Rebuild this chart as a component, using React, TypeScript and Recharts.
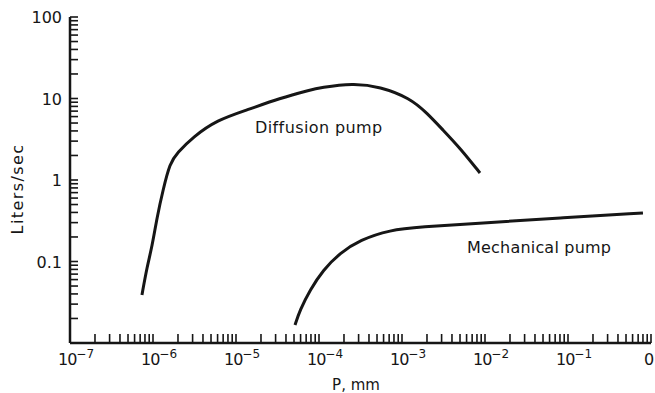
import React from 'react';
import { LineChart, Line, XAxis, YAxis } from 'recharts';

// pumping speed (liters/sec) against pressure (mm)
const diffusionPressure = [7.36e-7, 8.47e-7, 9.73e-7, 1.12e-6, 1.32e-6, 1.6e-6, 1.95e-6, 3.03e-6, 5.9e-6, 1.36e-5, 3.39e-5, 7.8e-5, 1.03e-4, 2.57e-4, 5.43e-4, 1.25e-3, 2.0e-3, 3.12e-3, 5.0e-3, 8.7e-3];
const diffusionSpeed = [0.0388, 0.0857, 0.151, 0.352, 0.753, 1.62, 2.14, 3.37, 5.45, 7.23, 10.1, 12.7, 13.6, 15.4, 14.0, 10.1, 6.64, 4.1, 2.47, 1.22];

const mechanicalPressure = [5.14e-5, 5.9e-5, 7.8e-5, 1.12e-4, 1.79e-4, 3.12e-4, 7.16e-4, 1.65e-3, 8.7e-3, 0.08, 0.8];
const mechanicalSpeed = [0.0166, 0.0254, 0.0447, 0.0787, 0.127, 0.184, 0.244, 0.265, 0.296, 0.342, 0.394];

const xDecades = [1e-7, 1e-6, 1e-5, 1e-4, 1e-3, 1e-2, 1e-1, 1];
const xExponents = ['−7', '−6', '−5', '−4', '−3', '−2', '−1', ''];
const yDecades = [0.01, 0.1, 1, 10, 100];
const yLabels = ['', '0.1', '1', '10', '100'];
const minorSteps = [2, 3, 4, 5, 6, 7, 8, 9];

const ink = '#161616';
const font = '"DejaVu Sans", sans-serif';

const withMinor = (decades: number[]) =>
  decades.flatMap((d, i) => (i < decades.length - 1 ? [d, ...minorSteps.map((m) => d * m)] : [d]));

const xTicks = withMinor(xDecades);
const yTicks = withMinor(yDecades);

const decadeIndex = (v: number, decades: number[]) =>
  decades.findIndex((d) => Math.abs(Math.log10(v) - Math.log10(d)) < 1e-6);

const diffusion = diffusionPressure.map((p, i) => ({ p, s: diffusionSpeed[i] }));
const mechanical = mechanicalPressure.map((p, i) => ({ p, s: mechanicalSpeed[i] }));

function XTick(props: any) {
  const { x, y, payload } = props;
  const i = decadeIndex(payload.value, xDecades);
  return (
    <g>
      <line x1={x} y1={y} x2={x} y2={y - 9} stroke={ink} strokeWidth={1.6} />
      {i >= 0 && xExponents[i] !== '' && (
        <text x={x - 12} y={y + 22} fill={ink} fontSize={16} fontFamily={font}>
          <tspan letterSpacing={-1}>10</tspan>
          <tspan dy={-7} fontSize={12}>{xExponents[i]}</tspan>
        </text>
      )}
      {i >= 0 && xExponents[i] === '' && (
        <text x={x - 7} y={y + 22} fill={ink} fontSize={16} fontFamily={font}>0</text>
      )}
    </g>
  );
}

function YTick(props: any) {
  const { x, y, payload } = props;
  const i = decadeIndex(payload.value, yDecades);
  return (
    <g>
      <line x1={x} y1={y} x2={x + 8} y2={y} stroke={ink} strokeWidth={1.6} />
      {i >= 0 && yLabels[i] !== '' && (
        <text x={x - 8} y={y + 6} textAnchor="end" fill={ink} fontSize={16} fontFamily={font}>
          {yLabels[i]}
        </text>
      )}
    </g>
  );
}

export default function App() {
  return (
    <div style={{ position: 'absolute', left: 0, top: 0, width: 655, height: 393, background: '#fff' }}>
      <LineChart width={655} height={393} margin={{ top: 17, right: 4, left: 0, bottom: 0 }}>
        <XAxis
          dataKey="p"
          type="number"
          scale="log"
          domain={[1e-7, 1]}
          allowDataOverflow
          ticks={xTicks}
          interval={0}
          height={50}
          tickSize={0}
          tickMargin={0}
          tickLine={false}
          tick={<XTick />}
          axisLine={{ stroke: ink, strokeWidth: 2.5 }}
        />
        <XAxis
          xAxisId="top"
          orientation="top"
          type="number"
          scale="log"
          domain={[1e-7, 1]}
          height={0}
          tick={false}
          tickLine={false}
          axisLine={{ stroke: ink, strokeWidth: 2.5 }}
        />
        <YAxis
          dataKey="s"
          type="number"
          scale="log"
          domain={[0.01, 100]}
          allowDataOverflow
          ticks={yTicks}
          interval={0}
          width={70}
          tickSize={0}
          tickMargin={0}
          tickLine={false}
          tick={<YTick />}
          axisLine={{ stroke: ink, strokeWidth: 2.5 }}
        />
        <YAxis
          yAxisId="right"
          orientation="right"
          type="number"
          scale="log"
          domain={[0.01, 100]}
          width={0}
          tick={false}
          tickLine={false}
          axisLine={{ stroke: ink, strokeWidth: 2.5 }}
        />
        <Line data={diffusion} dataKey="s" type="basis" stroke={ink} strokeWidth={3} dot={false} isAnimationActive={false} />
        <Line data={mechanical} dataKey="s" type="basis" stroke={ink} strokeWidth={3} dot={false} isAnimationActive={false} />
      </LineChart>
      <svg width={655} height={393} style={{ position: 'absolute', left: 0, top: 0, pointerEvents: 'none' }}>
        <text x={255} y={133} fill={ink} fontSize={16} fontFamily={font} letterSpacing={0.4}>Diffusion pump</text>
        <text x={467} y={253} fill={ink} fontSize={16} fontFamily={font} letterSpacing={0.2}>Mechanical pump</text>
        <text x={356} y={390} textAnchor="middle" fill={ink} fontSize={15} fontFamily={font}>P, mm</text>
        <text
          transform="translate(23,189) rotate(-90)"
          textAnchor="middle"
          fill={ink}
          fontSize={16}
          fontFamily={font}
          letterSpacing={1.4}
        >
          Liters/sec
        </text>
      </svg>
    </div>
  );
}
